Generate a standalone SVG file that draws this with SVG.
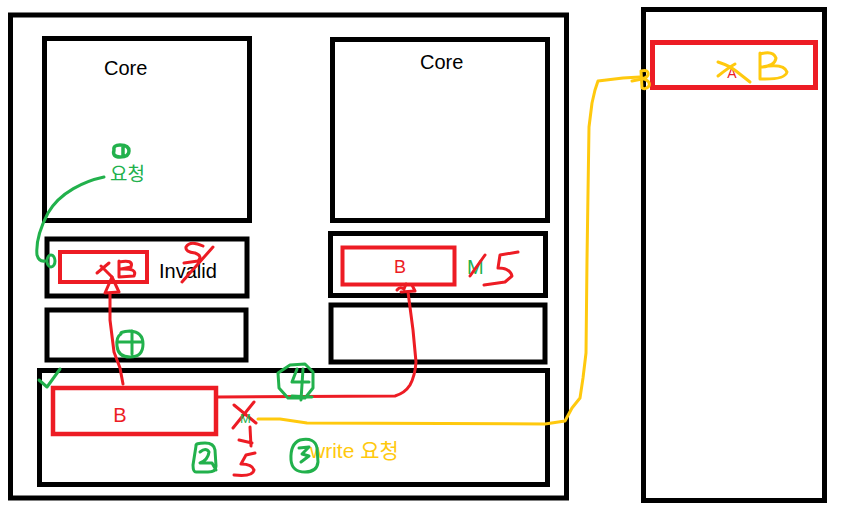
<svg xmlns="http://www.w3.org/2000/svg" width="859" height="514" viewBox="0 0 859 514">
<style>
.box{fill:none;stroke:#000;stroke-width:5}
.rbox{fill:none;stroke:#ED1C24;stroke-width:4}
.lbl{font-family:"Liberation Sans","Noto Sans CJK KR",sans-serif;font-size:20px;fill:#000}
.ko{font-family:"Noto Sans CJK KR","Liberation Sans",sans-serif}
.red{stroke:#ED1C24;stroke-width:3;fill:none;stroke-linecap:round;stroke-linejoin:round}
.grn{stroke:#22B14C;stroke-width:3;fill:none;stroke-linecap:round;stroke-linejoin:round}
.yel{stroke:#FFC90E;stroke-width:3;fill:none;stroke-linecap:round;stroke-linejoin:round}
</style>
<rect width="859" height="514" fill="#fff"/>
<g id="chip"><rect class="box" x="10.5" y="15" width="556" height="483"/></g>
<g id="core1"><rect class="box" x="44.5" y="38.5" width="205" height="182"/><text class="lbl" x="104" y="75">Core</text></g>
<g id="core2"><rect class="box" x="332.5" y="39.5" width="215" height="181"/><text class="lbl" x="420" y="69">Core</text></g>
<g id="cache1a"><rect class="box" x="47" y="239" width="200" height="57"/>
<rect class="rbox" x="60" y="252" width="87" height="30"/>
<text class="lbl" x="159" y="278">Invalid</text></g>
<g id="cache1b"><rect class="box" x="47" y="310" width="199" height="50"/></g>
<g id="cache2a"><rect class="box" x="330.5" y="233.5" width="215" height="62"/>
<rect class="rbox" x="342.5" y="247.5" width="112" height="37"/>
<text class="lbl" x="400" y="273" text-anchor="middle" style="fill:#ED1C24;font-size:18px">B</text>
<text class="lbl" x="467" y="274" style="fill:#22B14C;font-size:20px">M</text></g>
<g id="cache2b"><rect class="box" x="331" y="305" width="214" height="57"/></g>
<g id="shared"><rect class="box" x="39.5" y="370.5" width="508" height="114"/>
<rect class="rbox" x="53" y="388" width="163" height="46" style="stroke-width:4.5"/>
<text class="lbl" x="120" y="422" text-anchor="middle" style="fill:#ED1C24">B</text></g>
<g id="memory"><rect class="box" x="643.5" y="9.5" width="181" height="491"/>
<rect class="rbox" x="652.5" y="42.5" width="163" height="45" style="stroke-width:5"/>
<text class="lbl" x="732" y="78" text-anchor="middle" style="fill:#ED1C24;font-size:14px">A</text></g>
<g id="connectors">
<path class="grn" d="M104 177 C85 181 60 192 48 213 C38 232 36 245 37 255 Q39 262 45 261"/>
<ellipse class="grn" cx="51" cy="261" rx="4" ry="6"/>
<path class="red" d="M123 384 L120 368 L114 352 L110 320 L110 293"/>
<path class="red" d="M112 277 L105 293 L119 292 Z"/>
<path class="red" d="M217 397 L395 396 Q405 393 410 385 Q415 376 416 362 L413 330 L408 292"/>
<path class="red" d="M397 290 Q400 286 404 289 L406 284 M401 292 L415 291 L412 285"/>
<path class="yel" d="M258 419 L280 419 L307 423 L545 424 L565 421 L572 408 L580 398 L583 378 L586 353 L587 260 L589 127 L592 103 L595 90 L598 81 L623 78 L640 77"/>
</g>
<g id="annotations">
<path class="grn" d="M114 150 Q113 145 120 145 Q129 145 129 151 Q129 157 120 157 Q112 157 114 150 M123 147 L123 156" style="stroke-width:3.5"/>
<text x="110" y="181" class="ko" style="font-size:19px;fill:#22B14C">요청</text>
<path class="red" d="M97 273 L109 263 M101 266 L112 277"/>
<path class="red" d="M119 261 L119 277 M119 262 Q134 259 131 267 L121 269 M121 269 Q138 268 134 276 L119 277"/>
<path class="red" d="M203 246 Q190 240 186 247 Q185 252 195 253 Q203 256 198 261 L184 263 M213 247 L182 282"/>
<path class="red" d="M485 255 L470 276"/>
<path class="red" d="M518 252 L500 255 L498 268 Q510 268 512 276 L505 282 L484 285"/>
<path class="grn" d="M121 334 Q119 332 130 331 Q143 332 143 344 Q143 357 130 357 Q118 357 117 346 Q116 337 121 334 M132 331 L132 354 M117 342 L142 342"/>
<path class="grn" d="M39 380 L47 387 L60 369"/>
<path class="grn" d="M290 365 L305 364 L313 372 L313 388 L305 398 L288 398 L279 388 L278 373 Z M297 369 L292 382 L309 382 M303 369 L301 400 M292 396 L312 397"/>
<path class="red" d="M234 405 L256 423 M254 402 L233 428"/>
<text x="240" y="423" style="font-family:'Liberation Sans',sans-serif;font-size:13px;fill:#22B14C">M</text>
<path class="red" d="M250 427 L251 446 M239 440 L252 443"/>
<path class="red" d="M255 453 L246 455 L241 464 Q252 464 254 470 Q253 477 234 475"/>
<path class="grn" d="M196 446 Q195 443 205 443 Q214 443 215 450 L216 466 Q216 472 208 472 L196 472 Q193 472 193 465 Z M200 452 Q206 447 209 452 Q208 460 200 463 L212 463 L216 470"/>
<text x="310" y="458" style="font-family:'Liberation Sans','Noto Sans CJK KR',sans-serif;font-size:21px;fill:#FFC90E">write 요청</text>
<path class="grn" d="M300 440 Q315 437 317 448 L318 462 Q317 472 305 472 Q292 472 291 460 Q290 444 300 440 Z M299 448 L309 447 L302 454 L309 456 L301 462"/>
<path class="yel" d="M632 81 L642 79 M641 71 Q649 69 648 75 Q646 79 642 78 Q651 81 649 86 Q646 90 642 88 L641 71"/>
<path class="yel" d="M718 62 Q730 66 736 71 L750 82 M718 76 Q728 68 735 64"/>
<path class="yel" d="M760 53 L760 79 M760 54 Q773 50 776 58 Q775 66 762 67 Q784 63 787 72 Q785 80 760 79"/>
</g>
</svg>
